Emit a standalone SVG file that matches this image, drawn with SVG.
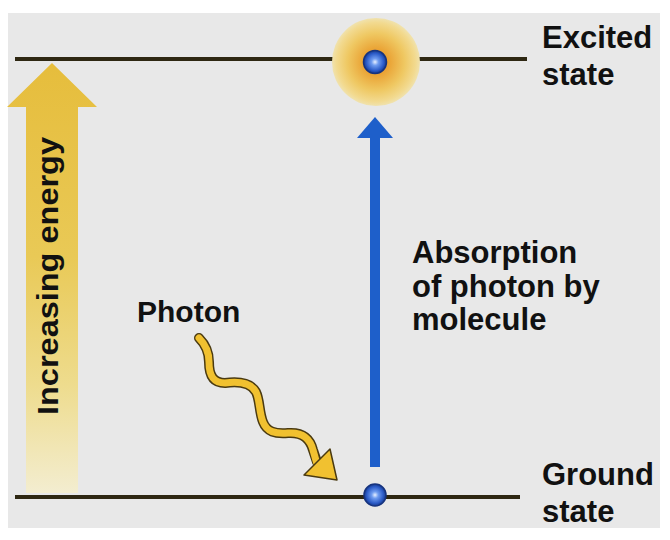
<svg xmlns="http://www.w3.org/2000/svg" width="670" height="540" viewBox="0 0 670 540">
<defs>
<style>
.lbl{font-family:"Liberation Sans",Arial,Helvetica,sans-serif;font-weight:bold;fill:#111;}
.level{stroke:#2e2712;stroke-width:4;fill:none;}
</style>
<linearGradient id="energyGrad" x1="0" y1="63" x2="0" y2="493" gradientUnits="userSpaceOnUse">
<stop offset="0" stop-color="#e6bd3c"/>
<stop offset="0.45" stop-color="#e9c956"/>
<stop offset="0.75" stop-color="#eedc8e"/>
<stop offset="1" stop-color="#f3edd0"/>
</linearGradient>
<radialGradient id="glow" cx="0.5" cy="0.5" r="0.5">
<stop offset="0" stop-color="#e58a1e"/>
<stop offset="0.3" stop-color="#eaa436"/>
<stop offset="0.65" stop-color="#efc862"/>
<stop offset="0.9" stop-color="#f2da90"/>
<stop offset="1" stop-color="#f0e2ae"/>
</radialGradient>
<radialGradient id="ball" cx="0.5" cy="0.5" r="0.5" fx="0.5" fy="0.5">
<stop offset="0" stop-color="#e8f0ff"/>
<stop offset="0.3" stop-color="#6f9cf0"/>
<stop offset="0.75" stop-color="#2c5cc8"/>
<stop offset="1" stop-color="#173a8e"/>
</radialGradient>
</defs>

<g id="background">
<rect x="0" y="0" width="670" height="540" fill="#ffffff"/>
<rect x="8" y="13" width="652" height="515" fill="#e8e8e8"/>
</g>

<g id="energy-arrow">
<polygon points="52,63 97,107 78,107 78,493 26,493 26,107 7,107" fill="url(#energyGrad)"/>
<text class="lbl" font-size="30" transform="translate(58,415) rotate(-90)" textLength="278" lengthAdjust="spacingAndGlyphs">Increasing energy</text>
</g>

<g id="excited-level">
<line class="level" x1="15" y1="59" x2="527" y2="59"/>
<text class="lbl" font-size="31" x="542" y="48">Excited</text>
<text class="lbl" font-size="31" x="542" y="85">state</text>
</g>

<g id="ground-level">
<line class="level" x1="15" y1="497" x2="520" y2="497"/>
<text class="lbl" font-size="31" x="542" y="485">Ground</text>
<text class="lbl" font-size="31" x="542" y="522">state</text>
</g>

<g id="excited-molecule">
<circle cx="376" cy="62" r="44" fill="url(#glow)"/>
<circle cx="375" cy="62" r="11.5" fill="url(#ball)" stroke="#16337e" stroke-width="1.5"/>
</g>

<g id="ground-molecule">
<circle cx="375" cy="495" r="11" fill="url(#ball)" stroke="#16337e" stroke-width="1.5"/>
</g>

<g id="connectors">
<g id="absorption-arrow">
<rect x="370" y="136" width="10" height="331" fill="#1e5fca"/>
<polygon points="375,117 393,138 357,138" fill="#1e5fca"/>
</g>
<g id="photon-arrow">
<path d="M199,338 C206,345 209,352 209,362 C209,375 213,383 225,383 C240,381 251,383 256,392 C260,400 259,412 263,422 C267,432 275,434 288,433 C302,432 310,438 313,450 L317,462" fill="none" stroke="#4a3a10" stroke-width="10" stroke-linecap="round" stroke-linejoin="round"/>
<path d="M199,338 C206,345 209,352 209,362 C209,375 213,383 225,383 C240,381 251,383 256,392 C260,400 259,412 263,422 C267,432 275,434 288,433 C302,432 310,438 313,450 L317,464" fill="none" stroke="#f1c130" stroke-width="7" stroke-linecap="round" stroke-linejoin="round"/>
<polygon points="304,475 330,449 337,480" fill="#f1c130" stroke="#4a3a10" stroke-width="1.5" stroke-linejoin="round"/>
</g>
</g>

<g id="labels">
<text class="lbl" font-size="30" x="137" y="322">Photon</text>
<text class="lbl" font-size="31" x="412" y="263">Absorption</text>
<text class="lbl" font-size="31" x="412" y="297">of photon by</text>
<text class="lbl" font-size="31" x="412" y="330">molecule</text>
</g>
</svg>
